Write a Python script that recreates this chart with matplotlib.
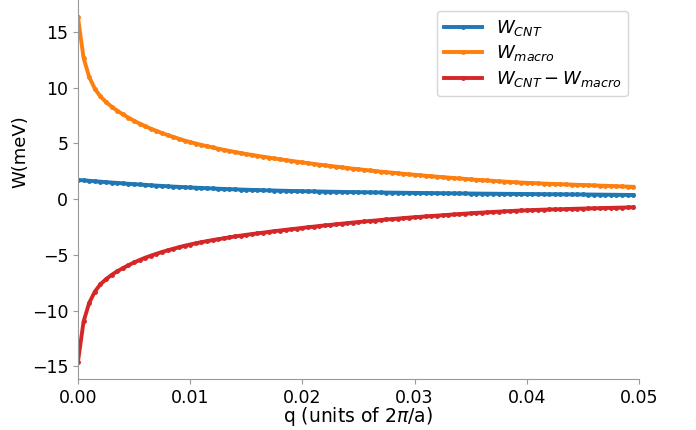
import numpy as np
import matplotlib
matplotlib.use("Agg")
import matplotlib.pyplot as plt

# q grid spacing (units of 2pi/a)
q_step = 0.0005

# W_macro (meV)
w_macro = [16.30, 12.65, 10.95, 9.90, 9.20, 8.70, 8.28, 7.92, 7.60, 7.30,
           7.02, 6.77, 6.53, 6.31, 6.11, 5.92, 5.74, 5.57, 5.41, 5.25,
           5.11, 4.98, 4.86, 4.74, 4.63, 4.52, 4.42, 4.32, 4.22, 4.13,
           4.04, 3.96, 3.88, 3.80, 3.72, 3.64, 3.57, 3.50, 3.43, 3.36,
           3.29, 3.22, 3.16, 3.09, 3.03, 2.97, 2.91, 2.85, 2.79, 2.73,
           2.68, 2.62, 2.57, 2.52, 2.46, 2.41, 2.37, 2.32, 2.27, 2.22,
           2.18, 2.14, 2.09, 2.05, 2.01, 1.97, 1.93, 1.89, 1.85, 1.81,
           1.77, 1.73, 1.70, 1.67, 1.63, 1.60, 1.57, 1.54, 1.51, 1.48,
           1.46, 1.435, 1.41, 1.39, 1.37, 1.355, 1.34, 1.32, 1.30, 1.28,
           1.265, 1.245, 1.23, 1.21, 1.19, 1.175, 1.155, 1.14, 1.12, 1.10]

# W_CNT (meV)
w_cnt = [1.72, 1.68, 1.64, 1.60, 1.56, 1.52, 1.485, 1.45, 1.41, 1.375,
         1.34, 1.31, 1.28, 1.24, 1.21, 1.18, 1.15, 1.12, 1.095, 1.07,
         1.04, 1.02, 1.00, 0.975, 0.955, 0.93, 0.91, 0.89, 0.875, 0.855,
         0.84, 0.825, 0.81, 0.795, 0.78, 0.77, 0.755, 0.745, 0.73, 0.72,
         0.71, 0.70, 0.69, 0.68, 0.67, 0.66, 0.655, 0.645, 0.635, 0.63,
         0.62, 0.613, 0.606, 0.599, 0.592, 0.585, 0.579, 0.573, 0.567, 0.561,
         0.555, 0.549, 0.543, 0.537, 0.531, 0.525, 0.52, 0.515, 0.51, 0.505,
         0.50, 0.495, 0.49, 0.486, 0.481, 0.476, 0.472, 0.468, 0.464, 0.459,
         0.455, 0.451, 0.447, 0.443, 0.439, 0.435, 0.431, 0.427, 0.423, 0.419,
         0.415, 0.41, 0.405, 0.40, 0.395, 0.39, 0.385, 0.38, 0.375, 0.37]

w_macro = np.array(w_macro)
w_cnt = np.array(w_cnt)
q = np.arange(len(w_cnt)) * q_step
w_diff = w_cnt - w_macro

fig = plt.figure(figsize=(6.96, 4.30), dpi=100)
ax = fig.add_axes([0.112, 0.1186, 0.806, 0.8814])

kw = dict(marker='.', markersize=5, linewidth=2.8)
ax.plot(q, w_cnt, color='#1f77b4', label=r'$W_{CNT}$', **kw)
ax.plot(q, w_macro, color='#ff7f0e', label=r'$W_{macro}$', **kw)
ax.plot(q, w_diff, color='#d62728', label=r'$W_{CNT}-W_{macro}$', **kw)

ax.set_xlim(0, 0.05)
ax.set_xticks([0, 0.01, 0.02, 0.03, 0.04, 0.05])
ax.set_yticks([-15, -10, -5, 0, 5, 10, 15])
ax.set_xlabel(r'q (units of 2$\pi$/a)', fontsize=13.5, labelpad=-1)
ax.set_ylabel('W(meV)', fontsize=13)
ax.yaxis.set_label_coords(-0.086, 0.60)

for s in ['top', 'right']:
    ax.spines[s].set_visible(False)
for s in ['left', 'bottom']:
    ax.spines[s].set_color('#999999')
ax.tick_params(labelsize=12.5, color='#999999')

ax.legend(loc='upper right', fontsize=13, handlelength=2.1,
          handletextpad=0.75, labelspacing=0.3, borderaxespad=0.6)

fig.savefig('out.png', dpi=100)
